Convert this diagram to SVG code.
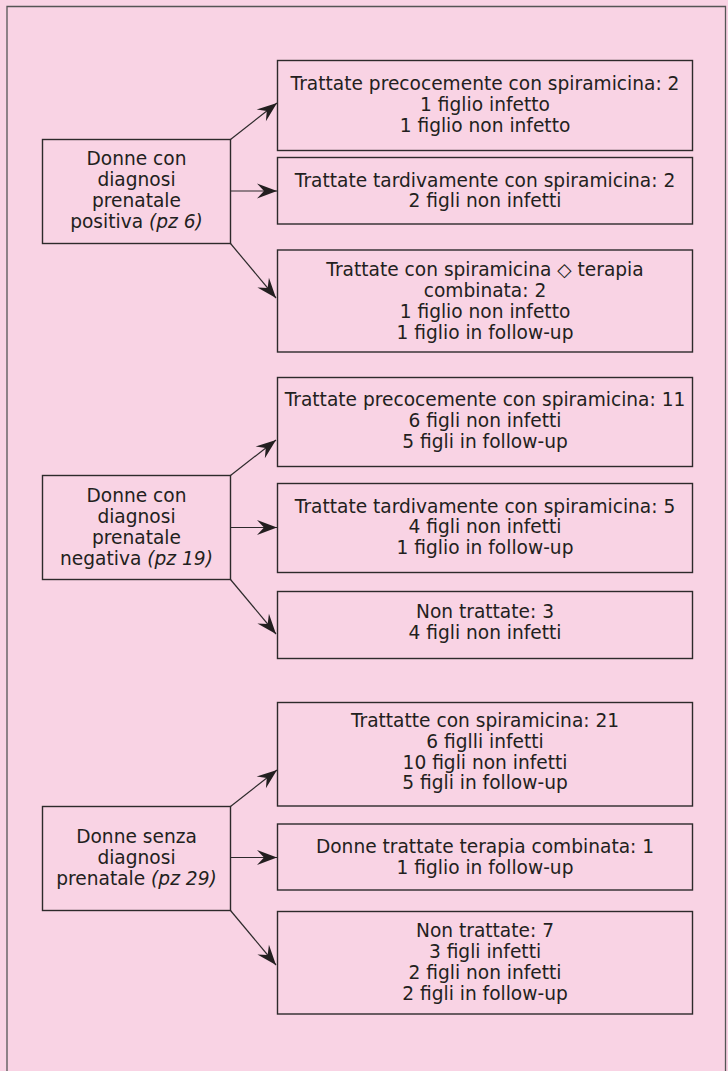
<svg xmlns="http://www.w3.org/2000/svg" width="728" height="1071" viewBox="0 0 728 1071">
  <style>
    .bg { fill: #f9d3e4; }
    .frame { fill: none; stroke: #555; stroke-width: 1.3; }
    .box { fill: #f9d3e4; stroke: #2d2a2b; stroke-width: 1.4; }
    .t { font-family: "DejaVu Sans", "Liberation Sans", sans-serif; font-size: 18.6px; fill: #231f20; text-anchor: middle; }
    .it { font-style: italic; }
    .conn { stroke: #2d2a2b; stroke-width: 1.2; fill: none; marker-end: url(#ah); }
  </style>
  <defs>
    <marker id="ah" markerUnits="userSpaceOnUse" markerWidth="24" markerHeight="20" viewBox="-22 -10 24 20" refX="0" refY="0" orient="auto">
      <path d="M0,0 L-20,-7.5 L-13,0 L-20,7.5 Z" fill="#231f20"/>
    </marker>
  </defs>
  <rect class="bg" x="0" y="0" width="728" height="1071"/>
  <path class="frame" d="M7,1075 L7,6.5 L725.5,6.5 L725.5,1075"/>

  <g id="connectors">
    <line class="conn" x1="230.5" y1="139.5" x2="277" y2="103"/>
    <line class="conn" x1="230.5" y1="191" x2="277" y2="191"/>
    <line class="conn" x1="230.5" y1="243.5" x2="276" y2="298"/>
    <line class="conn" x1="230.5" y1="475.5" x2="276" y2="440"/>
    <line class="conn" x1="230.5" y1="527.5" x2="277" y2="527.5"/>
    <line class="conn" x1="230.5" y1="579.5" x2="276" y2="634"/>
    <line class="conn" x1="230.5" y1="806.5" x2="277" y2="770"/>
    <line class="conn" x1="230.5" y1="857.5" x2="277" y2="857.5"/>
    <line class="conn" x1="230.5" y1="910.5" x2="276" y2="965"/>
  </g>

  <g id="n-positiva">
    <rect class="box" x="42.5" y="139.5" width="188" height="104"/>
    <text class="t" x="136.5" y="165">Donne con</text>
    <text class="t" x="136.5" y="186">diagnosi</text>
    <text class="t" x="136.5" y="207">prenatale</text>
    <text class="t" x="136.5" y="228">positiva <tspan class="it">(pz 6)</tspan></text>
  </g>
  <g id="n-pos-precoce">
    <rect class="box" x="277.5" y="60.5" width="415" height="90"/>
    <text class="t" x="485" y="90">Trattate precocemente con spiramicina: 2</text>
    <text class="t" x="485" y="111">1 figlio infetto</text>
    <text class="t" x="485" y="131.5">1 figlio non infetto</text>
  </g>
  <g id="n-pos-tardiva">
    <rect class="box" x="277.5" y="157.5" width="415" height="66.5"/>
    <text class="t" x="485" y="186.5">Trattate tardivamente con spiramicina: 2</text>
    <text class="t" x="485" y="207">2 figli non infetti</text>
  </g>
  <g id="n-pos-combinata">
    <rect class="box" x="277.5" y="250" width="415" height="102"/>
    <text class="t" x="485" y="276">Trattate con spiramicina ◇ terapia</text>
    <text class="t" x="485" y="297">combinata: 2</text>
    <text class="t" x="485" y="318">1 figlio non infetto</text>
    <text class="t" x="485" y="339">1 figlio in follow-up</text>
  </g>

  <g id="n-negativa">
    <rect class="box" x="42.5" y="475.5" width="188" height="104"/>
    <text class="t" x="136.5" y="501.5">Donne con</text>
    <text class="t" x="136.5" y="522.5">diagnosi</text>
    <text class="t" x="136.5" y="543.5">prenatale</text>
    <text class="t" x="136.5" y="564.5">negativa <tspan class="it">(pz 19)</tspan></text>
  </g>
  <g id="n-neg-precoce">
    <rect class="box" x="277.5" y="377.5" width="415" height="89"/>
    <text class="t" x="485" y="406">Trattate precocemente con spiramicina: 11</text>
    <text class="t" x="485" y="427">6 figli non infetti</text>
    <text class="t" x="485" y="447.5">5 figli in follow-up</text>
  </g>
  <g id="n-neg-tardiva">
    <rect class="box" x="277.5" y="483.5" width="415" height="89"/>
    <text class="t" x="485" y="512.5">Trattate tardivamente con spiramicina: 5</text>
    <text class="t" x="485" y="533">4 figli non infetti</text>
    <text class="t" x="485" y="554">1 figlio in follow-up</text>
  </g>
  <g id="n-neg-non">
    <rect class="box" x="277.5" y="591.5" width="415" height="67"/>
    <text class="t" x="485" y="618">Non trattate: 3</text>
    <text class="t" x="485" y="638.5">4 figli non infetti</text>
  </g>

  <g id="n-senza">
    <rect class="box" x="42.5" y="806.5" width="188" height="104"/>
    <text class="t" x="136.5" y="843">Donne senza</text>
    <text class="t" x="136.5" y="864">diagnosi</text>
    <text class="t" x="136.5" y="885">prenatale <tspan class="it">(pz 29)</tspan></text>
  </g>
  <g id="n-senza-spira">
    <rect class="box" x="277.5" y="702.5" width="415" height="103.5"/>
    <text class="t" x="485" y="727">Trattatte con spiramicina: 21</text>
    <text class="t" x="485" y="747.5">6 figlli infetti</text>
    <text class="t" x="485" y="768.5">10 figli non infetti</text>
    <text class="t" x="485" y="789">5 figli in follow-up</text>
  </g>
  <g id="n-senza-combinata">
    <rect class="box" x="277.5" y="824" width="415" height="66"/>
    <text class="t" x="485" y="853">Donne trattate terapia combinata: 1</text>
    <text class="t" x="485" y="873.5">1 figlio in follow-up</text>
  </g>
  <g id="n-senza-non">
    <rect class="box" x="277.5" y="911.5" width="415" height="102.5"/>
    <text class="t" x="485" y="936.5">Non trattate: 7</text>
    <text class="t" x="485" y="957.5">3 figli infetti</text>
    <text class="t" x="485" y="978.5">2 figli non infetti</text>
    <text class="t" x="485" y="999.5">2 figli in follow-up</text>
  </g>
</svg>
